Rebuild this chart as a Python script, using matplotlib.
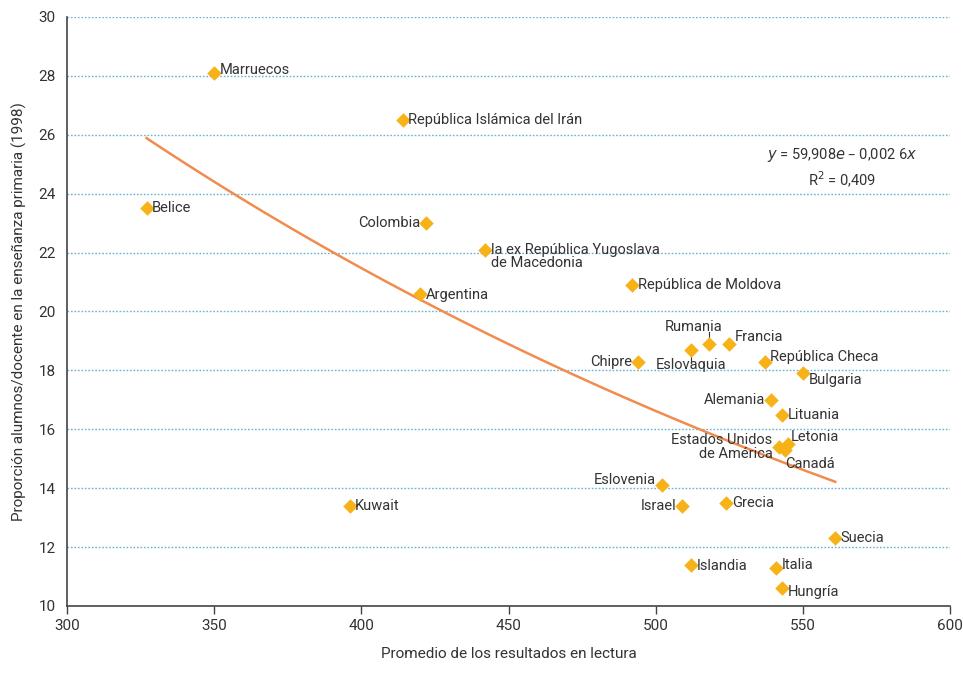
import numpy as np
import matplotlib
matplotlib.use('Agg')
import matplotlib.pyplot as plt
from matplotlib import font_manager

names = [f.name for f in font_manager.fontManager.ttflist]
fam = 'Liberation Sans Narrow' if 'Liberation Sans Narrow' in names else 'Roboto'
plt.rcParams['font.family'] = [fam, 'DejaVu Sans']

# datos
paises = ['Marruecos', 'República Islámica del Irán', 'Belice', 'Colombia',
          'la ex República Yugoslava\nde Macedonia', 'Argentina', 'República de Moldova',
          'Rumania', 'Eslovaquia', 'Francia', 'Chipre', 'República Checa', 'Bulgaria',
          'Alemania', 'Lituania', 'Estados Unidos\nde América', 'Letonia', 'Canadá',
          'Eslovenia', 'Israel', 'Grecia', 'Kuwait', 'Suecia', 'Islandia', 'Italia', 'Hungría']
lectura = [350, 414, 327, 422, 442, 420, 492, 518, 512, 525, 494, 537, 550,
           539, 543, 542, 545, 544, 502, 509, 524, 396, 561, 512, 541, 543]
proporcion = [28.1, 26.5, 23.5, 23.0, 22.1, 20.6, 20.9, 18.9, 18.7, 18.9, 18.3, 18.3, 17.9,
              17.0, 16.5, 15.4, 15.5, 15.3, 14.1, 13.4, 13.5, 13.4, 12.3, 11.4, 11.3, 10.6]

# posicion de las etiquetas: (dx, dy) en puntos, alineacion
etiquetas = {
    'Marruecos': (4, 2, 'left', 'center'),
    'República Islámica del Irán': (4, 0, 'left', 'center'),
    'Belice': (4, 0, 'left', 'center'),
    'Colombia': (-4, 0, 'right', 'center'),
    'la ex República Yugoslava\nde Macedonia': (4, -5, 'left', 'center'),
    'Argentina': (4, -1, 'left', 'center'),
    'República de Moldova': (4, 0, 'left', 'center'),
    'Rumania': (-11, 12, 'center', 'center'),
    'Eslovaquia': (0, -11, 'center', 'center'),
    'Francia': (4, 5, 'left', 'center'),
    'Chipre': (-4, 0, 'right', 'center'),
    'República Checa': (4, 3, 'left', 'center'),
    'Bulgaria': (4, -5, 'left', 'center'),
    'Alemania': (-4, 0, 'right', 'center'),
    'Lituania': (4, 0, 'left', 'center'),
    'Estados Unidos\nde América': (-5, 0, 'right', 'center'),
    'Letonia': (2, 5, 'left', 'center'),
    'Canadá': (0, -10, 'left', 'center'),
    'Eslovenia': (-4, 4, 'right', 'center'),
    'Israel': (-4, 0, 'right', 'center'),
    'Grecia': (4, 0, 'left', 'center'),
    'Kuwait': (4, 0, 'left', 'center'),
    'Suecia': (4, 0, 'left', 'center'),
    'Islandia': (4, -1, 'left', 'center'),
    'Italia': (4, 2, 'left', 'center'),
    'Hungría': (4, -3, 'left', 'center'),
}

fig = plt.figure(figsize=(9.63, 6.74), dpi=100)
ax = fig.add_axes([0.0696, 0.1009, 0.917, 0.874])

# tendencia exponencial
b, a = np.polyfit(lectura, np.log(proporcion), 1)
xs = np.linspace(min(lectura), max(lectura), 100)
ax.plot(xs, np.exp(a) * np.exp(b * xs), color='#F28C4E', lw=1.8, zorder=2)

ax.scatter(lectura, proporcion, marker='D', s=55, color='#F7B217', zorder=3, linewidths=0)

for p, x, y in zip(paises, lectura, proporcion):
    dx, dy, ha, va = etiquetas[p]
    ax.annotate(p, (x, y), xytext=(dx, dy), textcoords='offset points',
                ha=ha, va=va, fontsize=10.5, color='#333333', linespacing=0.95, zorder=4)

# lineas guia Rumania / Eslovaquia
ax.plot([518, 518], [18.9, 19.3], color='#333333', lw=0.8, zorder=2)
ax.plot([512, 512], [18.7, 18.25], color='#333333', lw=0.8, zorder=2)

ax.text(0.878, 0.744, '$y$ = 59,908$e$ – 0,002 6$x$\nR$^2$ = 0,409', transform=ax.transAxes,
        ha='center', va='center', fontsize=10.5, color='#333333', linespacing=1.35,
        multialignment='center')

ax.set_xlim(300, 600)
ax.set_ylim(10, 30)
ax.set_xticks(range(300, 601, 50))
ax.set_yticks(range(10, 31, 2))
ax.yaxis.grid(True, color='#6AB2D8', linestyle=(0, (1.2, 1.3)), lw=1.0)
ax.set_axisbelow(True)
for s in ['top', 'right']:
    ax.spines[s].set_visible(False)
for s in ['left', 'bottom']:
    ax.spines[s].set_color('#444444')
    ax.spines[s].set_linewidth(1.2)
ax.tick_params(axis='y', length=0, pad=8, labelsize=11, labelcolor='#333333')
ax.tick_params(axis='x', length=6, width=1, color='#444444', labelsize=11, labelcolor='#333333')
ax.set_xlabel('Promedio de los resultados en lectura', fontsize=11, color='#333333', labelpad=10)
ax.set_ylabel('Proporción alumnos/docente en la enseñanza primaria (1998)', fontsize=11,
              color='#333333', labelpad=8)

plt.savefig('out.png', dpi=100)
